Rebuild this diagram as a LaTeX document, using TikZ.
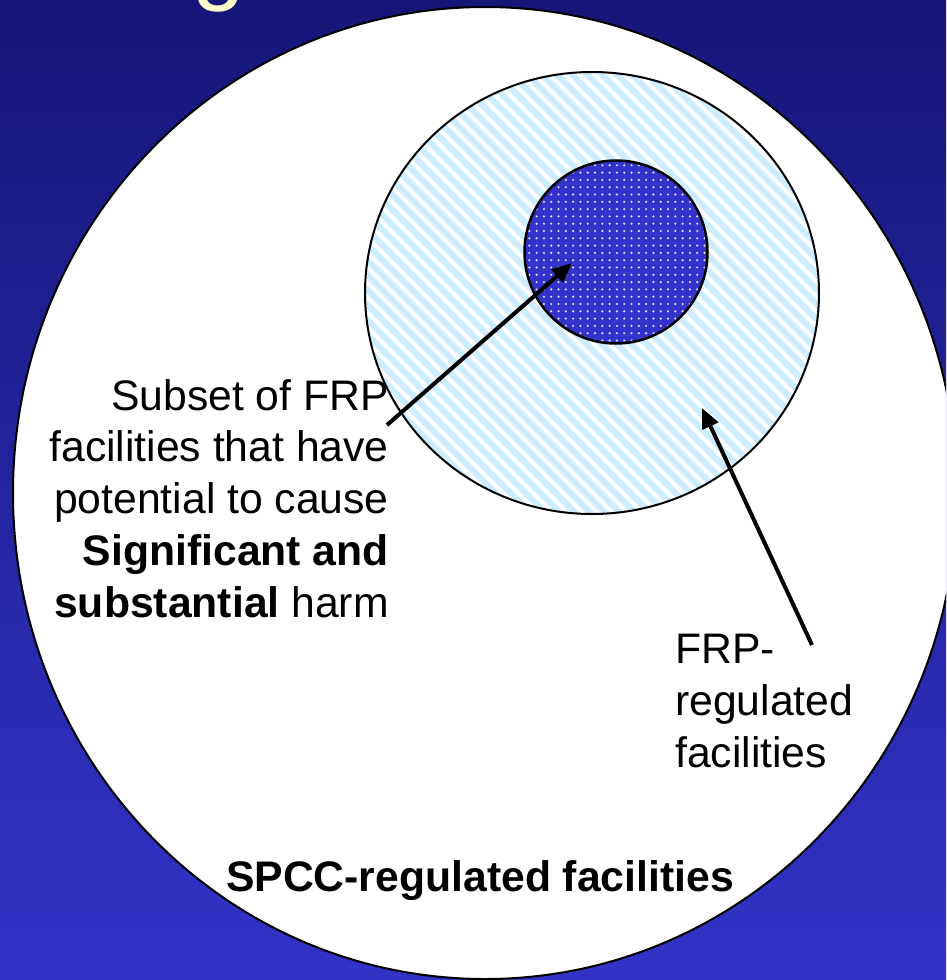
\documentclass[tikz,border=0pt]{standalone}
\usepackage{fontspec}
\setmainfont{Liberation Sans}
\usetikzlibrary{arrows.meta}
\definecolor{bgtop}{RGB}{22,22,120}
\definecolor{bgbot}{RGB}{51,51,200}
\definecolor{frpfill}{RGB}{204,236,255}
\definecolor{dotfill}{RGB}{51,51,204}
\definecolor{titlecol}{RGB}{255,255,204}
\begin{document}
\begin{tikzpicture}[x=1pt,y=-1pt,
  lbl/.style={font=\fontsize{42.7}{51.7}\selectfont, inner sep=0pt, text=black},
  pointer/.style={line width=4pt, -{Triangle[length=20pt,width=17pt]}},
  rim/.style={draw=black, line width=2pt}]
\useasboundingbox (0,0) rectangle (946,980);
\clip (0,0) rectangle (946,980);
\shade[top color=bgtop, bottom color=bgbot] (0,0) rectangle (946,980);
\node[font=\fontsize{95}{100}\selectfont, text=titlecol, anchor=base, inner sep=0pt] (title) at (219,-8) {g};
% SPCC ellipse
\coordinate (spccc) at (485,493);
\filldraw[fill=white, rim] (spccc) ellipse [x radius=472, y radius=486];
% FRP circle
\coordinate (frpc) at (592,293);
\fill[frpfill] (frpc) ellipse [x radius=227, y radius=221];
\begin{scope}
  \clip (frpc) ellipse [x radius=227, y radius=221];
  \foreach \k in {0,...,66} \draw[white, line width=4pt] ({-110+\k*15}, 60) -- ++(480,480);
\end{scope}
\draw[rim] (frpc) ellipse [x radius=227, y radius=221];
% SSH circle
\coordinate (sshc) at (616,252);
\fill[dotfill] (sshc) circle [radius=91.5];
\begin{scope}
  \clip (sshc) circle [radius=91.5];
  \foreach \i in {0,...,26} \foreach \j in {0,...,26}
    \fill[white!85!dotfill] ({522+\i*7.3},{158+\j*7.3}) circle [radius=1.2];
\end{scope}
\draw[rim, line width=2.5pt] (sshc) circle [radius=91.5];
% labels
\node[lbl, align=right, anchor=base east] (subset) at (389,617)
  {Subset of FRP\\facilities that have\\potential to cause\\\textbf{Significant and}\\\textbf{substantial} harm};
\node[lbl, align=left, anchor=base west] (frp) at (675,767) {FRP-\\regulated\\facilities};
\node[lbl, anchor=base] (spcc) at (480,891) {\textbf{SPCC-regulated facilities}};
% arrows
\coordinate (a1s) at (387,425);
\coordinate (a1e) at (572,263);
\coordinate (a2s) at (812,645);
\coordinate (a2e) at (702,408);
\draw[pointer] (a1s) -- (a1e);
\draw[pointer] (a2s) -- (a2e);
\end{tikzpicture}
\end{document}
